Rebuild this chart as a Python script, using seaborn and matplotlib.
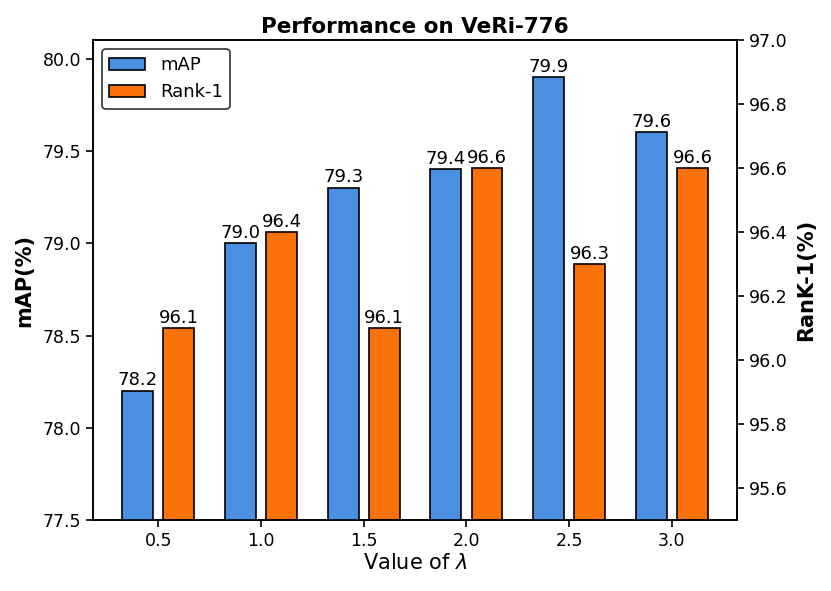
import matplotlib
matplotlib.use("Agg")
import matplotlib.pyplot as plt
import seaborn as sns
import numpy as np

# chart data
lambdas = [0.5, 1.0, 1.5, 2.0, 2.5, 3.0]
map_vals = [78.2, 79.0, 79.3, 79.4, 79.9, 79.6]
rank1_vals = [96.1, 96.4, 96.1, 96.6, 96.3, 96.6]

sns.set_style("ticks", rc={
    'axes.edgecolor': 'black', 'text.color': 'black', 'axes.labelcolor': 'black',
    'xtick.color': 'black', 'ytick.color': 'black',
})
plt.rcParams['font.family'] = ['DejaVu Sans']
plt.rcParams['axes.linewidth'] = 1.2

blue = '#4A8FE2'
orange = '#FB7308'
offset = 0.1

fig, ax1 = plt.subplots(figsize=(8.31, 5.91), dpi=100)
ax2 = ax1.twinx()

x_map = np.array(lambdas) - offset
x_rank = np.array(lambdas) + offset

sns.barplot(x=x_map, y=map_vals, native_scale=True, width=0.3, color=blue,
            edgecolor='black', linewidth=1.2, saturation=1, ax=ax1, label='mAP')
sns.barplot(x=x_rank, y=rank1_vals, native_scale=True, width=0.3, color=orange,
            edgecolor='black', linewidth=1.2, saturation=1, ax=ax2, label='Rank-1')

ax1.set_ylim(77.5, 80.1)
ax2.set_ylim(95.5, 97.0)
ax1.set_yticks([77.5, 78.0, 78.5, 79.0, 79.5, 80.0])
ax2.set_yticks([95.6, 95.8, 96.0, 96.2, 96.4, 96.6, 96.8, 97.0])
ax1.set_xticks(lambdas)
ax1.set_xticklabels([f"{v:.1f}" for v in lambdas])

for c in ax1.containers:
    ax1.bar_label(c, labels=[f"{v:.1f}" for v in map_vals], fontsize=13, padding=1)
for c in ax2.containers:
    ax2.bar_label(c, labels=[f"{v:.1f}" for v in rank1_vals], fontsize=13, padding=1)

ax1.tick_params(labelsize=12.5, width=1.2, length=5)
ax2.tick_params(labelsize=12.5, width=1.2, length=5)

ax1.set_xlabel(r"Value of $\lambda$", fontsize=15, labelpad=2)
ax1.set_ylabel("mAP(%)", fontsize=15, fontweight='bold', labelpad=6)
ax2.set_ylabel("RanK-1(%)", fontsize=15, fontweight='bold', labelpad=6)
ax1.set_title("Performance on VeRi-776", fontsize=15.5, fontweight='bold', pad=5)

for sp in ax2.spines.values():
    sp.set_visible(True)
    sp.set_linewidth(1.2)

h1, l1 = ax1.get_legend_handles_labels()
h2, l2 = ax2.get_legend_handles_labels()
if ax2.get_legend() is not None:
    ax2.get_legend().remove()
leg = ax1.legend(h1 + h2, l1 + l2, loc='upper left', fontsize=13,
                 framealpha=1, edgecolor='#333333', fancybox=True)
leg.get_frame().set_linewidth(1.2)
ax1.set_zorder(ax2.get_zorder() + 1)
ax1.patch.set_visible(False)

fig.subplots_adjust(left=0.112, right=0.887, top=0.932, bottom=0.12)
fig.savefig("out.png", dpi=100)
